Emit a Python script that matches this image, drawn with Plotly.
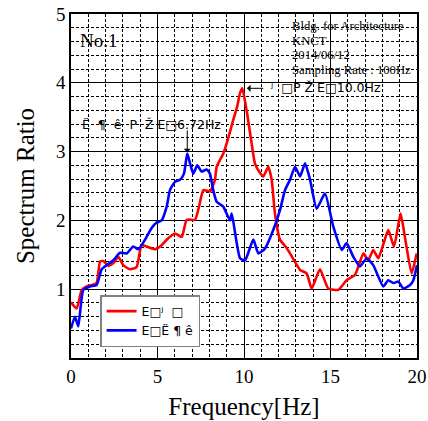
import plotly.graph_objects as go

# ---- data ----
red_freq = [0.0, 0.33, 0.62, 0.9, 1.2, 1.48, 1.68, 1.87, 2.16, 2.45, 2.73, 3.02, 3.41, 3.79, 4.08,
            4.37, 4.86, 5.2, 5.53, 6.01, 6.4, 6.69, 7.17, 7.4, 7.65, 8.03, 8.32, 8.42, 8.8, 9.0,
            9.38, 9.6, 9.77, 9.9, 10.15, 10.44, 10.63, 10.9, 11.12, 11.4, 11.6, 11.79, 12.08, 12.4,
            12.66, 13.24, 13.62, 13.91, 14.39, 14.87, 15.45, 15.93, 16.42, 16.9, 17.18, 17.47,
            17.76, 18.05, 18.34, 18.67, 19.05, 19.3, 19.69, 19.98]
red_vals = [0.81, 0.72, 0.99, 1.04, 1.06, 1.09, 1.40, 1.41, 1.34, 1.38, 1.47, 1.35, 1.29, 1.32, 1.64,
            1.62, 1.58, 1.63, 1.72, 1.81, 1.76, 2.01, 2.01, 2.20, 2.44, 2.42, 2.59, 2.78, 2.97, 3.12,
            3.46, 3.65, 3.85, 3.92, 3.60, 3.12, 2.83, 2.70, 2.64, 2.78, 2.59, 2.10, 1.72, 1.62,
            1.52, 1.28, 1.23, 1.01, 1.29, 1.01, 0.99, 1.13, 1.21, 1.52, 1.42, 1.57,
            1.45, 1.65, 1.86, 1.62, 2.10, 1.76, 1.23, 1.52]

blue_freq = [0.0, 0.23, 0.42, 0.71, 1.1, 1.48, 1.77, 2.06, 2.45, 2.83, 3.22, 3.6, 3.89, 4.28, 4.66,
             4.95, 5.24, 5.53, 5.72, 6.01, 6.3, 6.53, 6.72, 6.88, 7.07, 7.3, 7.55, 7.84, 8.03, 8.22,
             8.42, 8.8, 9.19, 9.29, 9.77, 10.06, 10.54, 10.83, 11.21, 11.69, 12.08, 12.37, 12.66,
             12.95, 13.24, 13.53, 13.82, 14.2, 14.68, 15.16, 15.65, 15.93, 16.32, 16.7, 17.09,
             17.47, 18.05, 18.34, 18.63, 18.92, 19.21, 19.6, 19.79, 20.0]
blue_vals = [0.43, 0.60, 0.46, 0.99, 1.04, 1.06, 1.29, 1.35, 1.42, 1.53, 1.52, 1.62, 1.58, 1.72, 1.89,
             1.97, 2.00, 2.20, 2.44, 2.56, 2.59, 2.68, 2.97, 2.83, 2.68, 2.80, 2.71, 2.74, 2.68, 2.44,
             2.27, 2.20, 2.00, 2.10, 1.45, 1.42, 1.72, 1.52, 1.59, 1.86, 2.15, 2.44, 2.59,
             2.78, 2.64, 2.83, 2.59, 2.17, 2.39, 1.91, 1.57, 1.67, 1.47, 1.33, 1.45,
             1.35, 1.04, 1.13, 1.09, 1.11, 1.01, 1.06, 1.13, 1.35]

red_name = "E\u25a1\u02b2\u00a0\u00a0\u25a1"
blue_name = "E\u25a1\u00cb\u00a0\u00b6\u00a0\u00ea"

x_ticks = [0, 5, 10, 15, 20]
y_ticks = [1, 2, 3, 4, 5]

peak1_freq, peak1_val = 6.72, 2.97
peak2_freq, peak2_val = 10.0, 3.92
peak1_label = "\u00cb\u00a0\u00a0\u00b6\u00a0\u00a0\u00ea\u00a0\u00a0P\u00a0\u00a0\u017d\u00a0E\u25a16.72Hz"
peak2_label = "\u02b2\u00a0\u00a0\u25a1P\u00a0\u017d\u00a0E\u25a110.0Hz"
info_lines = ["Bldg. for Architecture", "KNCT", "2014/06/12", "Sampling Rate : 100Hz"]

SERIF = "Liberation Serif, Times New Roman, serif"
SANS = "DejaVu Sans, sans-serif"

fig = go.Figure()
fig.add_trace(go.Scatter(x=red_freq, y=red_vals, mode="lines", name=red_name,
                         line=dict(color="#ff0000", width=2.6, shape="spline", smoothing=0.5)))
fig.add_trace(go.Scatter(x=blue_freq, y=blue_vals, mode="lines", name=blue_name,
                         line=dict(color="#0000ff", width=2.6, shape="spline", smoothing=0.5)))

# arrows
fig.add_annotation(x=peak1_freq, y=peak1_val + 0.02, ax=peak1_freq, ay=3.33, axref="x", ayref="y",
                   text="", showarrow=True, arrowhead=1, arrowsize=1.2, arrowwidth=1, arrowcolor="black")
fig.add_annotation(x=peak2_freq + 0.17, y=peak2_val, ax=11.2, ay=peak2_val, axref="x", ayref="y",
                   text="", showarrow=True, arrowhead=1, arrowsize=1.2, arrowwidth=1, arrowcolor="black")
fig.add_annotation(x=0.5, y=3.4, xref="x", yref="y", text=peak1_label, showarrow=False,
                   xanchor="left", yanchor="middle", font=dict(family=SANS, size=12.5, color="black"))
fig.add_annotation(x=11.4, y=3.93, xref="x", yref="y", text=peak2_label, showarrow=False,
                   xanchor="left", yanchor="middle", font=dict(family=SANS, size=12.5, color="black"))

# No.1
fig.add_annotation(x=0.4, y=4.62, xref="x", yref="y", text="No.1", showarrow=False,
                   xanchor="left", yanchor="middle", font=dict(family=SERIF, size=19, color="black"))
# info lines
for i, line in enumerate(info_lines):
    fig.add_annotation(x=12.65, y=4.82 - i * 0.21, xref="x", yref="y", text=line, showarrow=False,
                       xanchor="left", yanchor="middle", font=dict(family=SERIF, size=12.7, color="black"))

fig.update_layout(
    width=428, height=421,
    margin=dict(l=71, r=11, t=14, b=63),
    paper_bgcolor="white", plot_bgcolor="white",
    font=dict(family=SERIF, color="black"),
    showlegend=True,
    legend=dict(x=0.084, y=0.183, xanchor="left", yanchor="top",
                bgcolor="white", bordercolor="#808080", borderwidth=1.5,
                font=dict(family=SANS, size=12.5, color="black"),
                itemwidth=30, tracegroupgap=0),
)
fig.update_xaxes(
    range=[0, 20], tickvals=x_ticks, ticktext=[str(v) for v in x_ticks], automargin=False,
    showgrid=True, gridcolor="black", gridwidth=1,
    minor=dict(tick0=0, dtick=1, showgrid=True, gridcolor="black", gridwidth=1, griddash="3px,2px"),
    showline=True, mirror=True, linecolor="black", linewidth=1.5,
    zeroline=False, ticks="", tickfont=dict(family=SERIF, size=19, color="black"),
    title=dict(text="Frequency[Hz]", font=dict(family=SERIF, size=25, color="black"), standoff=12),
)
fig.update_yaxes(
    range=[0, 5], tickvals=y_ticks, ticktext=[str(v) for v in y_ticks], automargin=False,
    showgrid=True, gridcolor="black", gridwidth=1,
    minor=dict(tick0=0, dtick=0.2, showgrid=True, gridcolor="black", gridwidth=1, griddash="3px,2px"),
    showline=True, mirror=True, linecolor="black", linewidth=1.5,
    zeroline=False, ticks="", tickfont=dict(family=SERIF, size=19, color="black"),
    title=dict(text="Spectrum Ratio", font=dict(family=SERIF, size=25, color="black"), standoff=14),
)

fig.write_html("out.html", config={"displayModeBar": False},
               post_script="document.body.style.margin='0px';")
